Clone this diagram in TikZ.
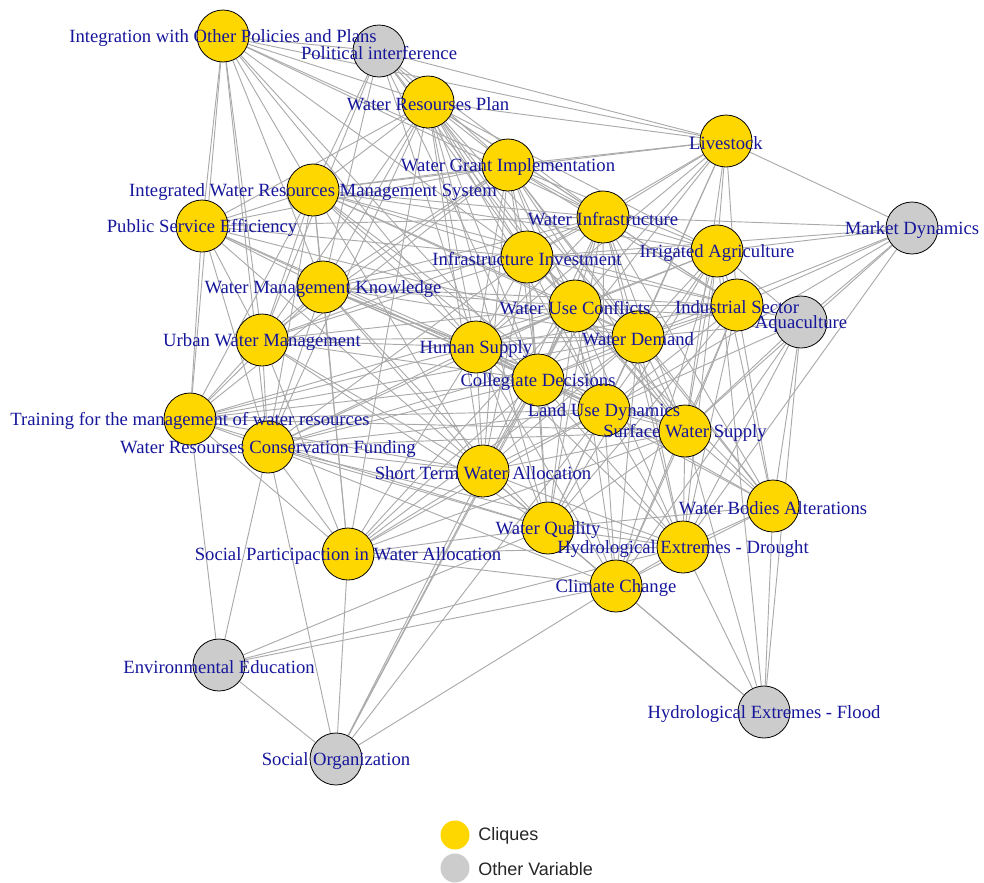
\documentclass[tikz,border=0pt]{standalone}
\usepackage{fontspec}
\setmainfont{Liberation Serif}
\newfontfamily\legendfont{Liberation Sans}
\usetikzlibrary{backgrounds}

\definecolor{cliquefill}{RGB}{255,215,0}
\definecolor{otherfill}{RGB}{204,204,204}
\definecolor{labelblue}{RGB}{22,22,155}
\definecolor{edgegray}{RGB}{170,170,170}

\tikzset{
  vertex/.style={circle, draw=black, line width=0.6pt, minimum size=39pt, inner sep=0pt},
  vlabel/.style={text=labelblue, font=\fontsize{14pt}{16pt}\selectfont, inner sep=0pt, yshift=-1.5pt},
  edge/.style={draw=edgegray, line width=0.7pt},
  legdot/.style={circle, minimum size=21.75pt, inner sep=0pt},
  legtext/.style={anchor=west, font=\legendfont\fontsize{13.5pt}{16pt}\selectfont, text=black!85, inner sep=0pt}
}

% name / x / y / fill / text   (pixel units, y downwards)
\def\nodelist{%
  ip/223/36/cliquefill/{Integration with Other Policies and Plans},
  pi/379/51/otherfill/{Political interference},
  wrp/428/102/cliquefill/{Water Resourses Plan},
  wgi/508/165/cliquefill/{Water Grant Implementation},
  ls/726/141/cliquefill/{Livestock},
  iw/313/190/cliquefill/{Integrated Water Resources Management System},
  pse/202/226/cliquefill/{Public Service Efficiency},
  wi/603/217/cliquefill/{Water Infrastructure},
  md/912/228/otherfill/{Market Dynamics},
  ia/717/251/cliquefill/{Irrigated Agriculture},
  ii/527/257/cliquefill/{Infrastructure Investment},
  wmk/323/287/cliquefill/{Water Management Knowledge},
  wuc/575/306/cliquefill/{Water Use Conflicts},
  is/737/305/cliquefill/{Industrial Sector},
  aq/801/322/otherfill/{Aquaculture},
  uwm/262/340/cliquefill/{Urban Water Management},
  hs/476/347/cliquefill/{Human Supply},
  wd/638/337/cliquefill/{Water Demand},
  cd/538/380/cliquefill/{Collegiate Decisions},
  lud/604/410/cliquefill/{Land Use Dynamics},
  tr/190/419/cliquefill/{Training for the management of water resources},
  sws/685/431/cliquefill/{Surface Water Supply},
  wrcf/268/447/cliquefill/{Water Resourses Conservation Funding},
  st/483/471/cliquefill/{Short Term Water Allocation},
  wba/773/506/cliquefill/{Water Bodies Alterations},
  wq/548/528/cliquefill/{Water Quality},
  dr/683/547/cliquefill/{Hydrological Extremes - Drought},
  sp/348/554/cliquefill/{Social Participaction in Water Allocation},
  cc/616/586/cliquefill/{Climate Change},
  ee/219/665/otherfill/{Environmental Education},
  fl/764/712/otherfill/{Hydrological Extremes - Flood},
  so/336/759/otherfill/{Social Organization}}

\begin{document}
\begin{tikzpicture}[x=0.75pt, y=-0.75pt]
\useasboundingbox (0,0) rectangle (984,882);

% circles
\foreach \n/\x/\y/\c/\t in \nodelist {
  \node[vertex, fill=\c] (\n) at (\x,\y) {};
}

% connections, behind the circles
\begin{pgfonlayer}{background}
\foreach \a/\b in {ip/pi, ip/wrp, ip/wgi, ip/ls, ip/iw, ip/pse, ip/wi, ip/ii, ip/wmk, ip/uwm, ip/hs, ip/cd, ip/tr, ip/wrcf,
  pi/wrp, pi/wgi, pi/ls, pi/iw, pi/wi, pi/ii, pi/wmk, pi/uwm, pi/hs, pi/wuc, pi/cd,
  wrp/wgi, wrp/ls, wrp/iw, wrp/pse, wrp/wi, wrp/ia, wrp/ii, wrp/wmk, wrp/wuc, wrp/is, wrp/uwm, wrp/hs, wrp/wd, wrp/cd, wrp/lud, wrp/sws, wrp/wrcf, wrp/st, wrp/wq, wrp/sp,
  wgi/ls, wgi/iw, wgi/pse, wgi/wi, wgi/ia, wgi/ii, wgi/wmk, wgi/wuc, wgi/is, wgi/uwm, wgi/hs, wgi/wd, wgi/cd, wgi/lud, wgi/tr, wgi/sws, wgi/st, wgi/wba,
  ls/iw, ls/wi, ls/md, ls/ia, ls/ii, ls/wuc, ls/is, ls/hs, ls/wd, ls/cd, ls/lud, ls/sws,
  iw/pse, iw/wi, iw/ia, iw/ii, iw/wmk, iw/wuc, iw/is, iw/uwm, iw/hs, iw/wd, iw/cd, iw/tr, iw/wrcf, iw/st, iw/sp, iw/lud,
  pse/wi, pse/ii, pse/wmk, pse/uwm, pse/hs, pse/wd, pse/cd, pse/tr, pse/wrcf, pse/st,
  wi/md, wi/ia, wi/ii, wi/wmk, wi/wuc, wi/is, wi/uwm, wi/hs, wi/wd, wi/cd, wi/lud, wi/sws, wi/st, wi/wba, wi/wq, wi/dr,
  md/ia, md/ii, md/wd, md/is, md/aq, md/sws, md/dr, md/lud,
  ia/ii, ia/wuc, ia/is, ia/aq, ia/hs, ia/wd, ia/lud, ia/sws, ia/wba, ia/wq, ia/dr, ia/cc, ia/fl,
  ii/wmk, ii/wuc, ii/is, ii/uwm, ii/hs, ii/wd, ii/cd, ii/lud, ii/sws, ii/wrcf, ii/st, ii/wq,
  wmk/wuc, wmk/is, wmk/uwm, wmk/hs, wmk/wd, wmk/cd, wmk/lud, wmk/tr, wmk/sws, wmk/wrcf, wmk/st, wmk/wq, wmk/sp,
  wuc/is, wuc/aq, wuc/uwm, wuc/hs, wuc/wd, wuc/cd, wuc/lud, wuc/tr, wuc/sws, wuc/wrcf, wuc/st, wuc/wba, wuc/wq, wuc/dr, wuc/sp, wuc/cc, wuc/so,
  is/aq, is/hs, is/wd, is/cd, is/lud, is/sws, is/wba, is/wq, is/dr, is/cc,
  aq/wd, aq/lud, aq/sws, aq/wba, aq/dr, aq/cc, aq/fl,
  uwm/hs, uwm/wd, uwm/cd, uwm/tr, uwm/wrcf, uwm/st, uwm/sp, uwm/wq,
  hs/wd, hs/cd, hs/lud, hs/tr, hs/sws, hs/wrcf, hs/st, hs/wba, hs/wq, hs/dr, hs/sp, hs/cc,
  wd/cd, wd/lud, wd/tr, wd/sws, wd/wrcf, wd/st, wd/wba, wd/wq, wd/dr, wd/sp, wd/cc,
  cd/lud, cd/tr, cd/sws, cd/wrcf, cd/st, cd/wq, cd/dr, cd/sp, cd/cc, cd/so,
  lud/tr, lud/sws, lud/wrcf, lud/st, lud/wba, lud/wq, lud/dr, lud/sp, lud/cc, lud/so,
  tr/sws, tr/wrcf, tr/st, tr/wq, tr/sp, tr/ee,
  sws/wrcf, sws/st, sws/wba, sws/wq, sws/dr, sws/sp, sws/cc, sws/fl,
  wrcf/st, wrcf/wq, wrcf/dr, wrcf/sp, wrcf/cc, wrcf/ee, wrcf/so,
  st/wq, st/dr, st/sp, st/cc, st/so,
  wba/wq, wba/dr, wba/cc, wba/fl,
  wq/dr, wq/sp, wq/cc, wq/ee, wq/fl,
  dr/sp, dr/cc, dr/ee, dr/fl,
  sp/cc, sp/so,
  cc/ee, cc/fl, cc/so,
  ee/so} {
  \draw[edge] (\a) -- (\b);
}
\end{pgfonlayer}

% names on top of everything
\foreach \n/\x/\y/\c/\t in \nodelist {
  \node[vlabel] (\n-name) at (\n.center) {\t};
}

% key
\node[legdot, fill=cliquefill] (keyclique) at (455,835) {};
\node[legtext] (keycliquetext) at (478,836) {Cliques};
\node[legdot, fill=otherfill] (keyother) at (455,868) {};
\node[legtext] (keyothertext) at (478,869) {Other Variable};
\end{tikzpicture}
\end{document}
